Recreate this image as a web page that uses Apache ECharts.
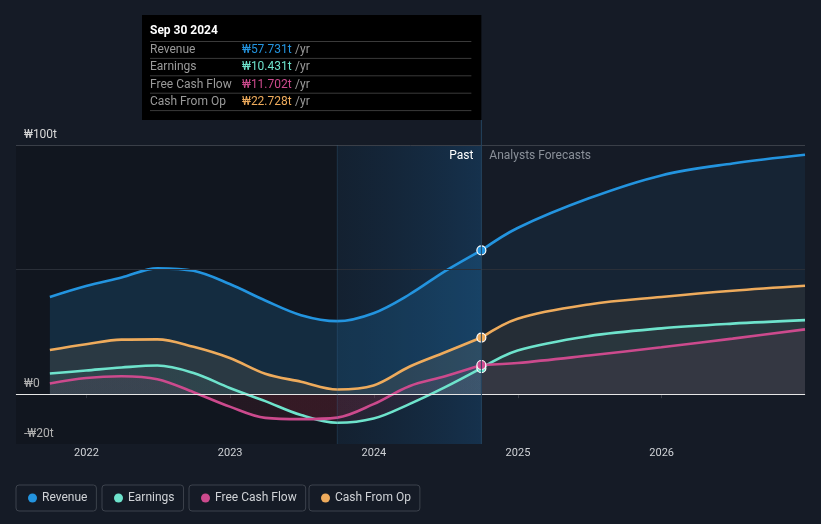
<!DOCTYPE html>
<html>
<head>
<meta charset="utf-8">
<script src="https://cdn.jsdelivr.net/npm/echarts@6/dist/echarts.min.js"></script>
<style>
html,body{margin:0;padding:0;background:#151b26;}
#c{width:821px;height:524px;}
</style>
</head>
<body>
<div id="c"></div>
<script>
// ---- data (₩ trillions) ----
const dates = ['2021-09-30','2021-12-31','2022-03-31','2022-06-30','2022-09-30','2022-12-31','2023-03-31','2023-06-30','2023-09-30','2023-12-31','2024-03-31','2024-06-30','2024-09-30','2024-12-31','2025-06-30','2025-12-31','2026-06-30','2026-12-31'];
const revenue  = [39.0,43.4,46.8,50.5,49.5,44.2,37.6,31.7,29.3,32.5,40.0,49.4,57.731,66.7,78.6,87.8,92.6,96.1];
const earnings = [8.3,9.5,10.7,11.5,8.5,2.5,-2.8,-8.4,-11.5,-9.8,-4.0,2.8,10.431,17.5,23.3,26.4,28.3,29.7];
const fcf      = [4.3,6.5,7.2,6.0,0.8,-5.0,-9.5,-10.0,-9.4,-4.0,3.2,7.2,11.702,12.5,15.5,18.8,22.3,26.0];
const cfo      = [17.7,20.0,21.9,22.0,19.0,14.5,8.2,5.0,1.9,3.5,11.0,16.8,22.728,30.3,36.0,39.0,41.5,43.5];
const pastEndIndex = 12;            // Sep 30 2024
const highlightStart = '2023-09-30';
const yTickLabels = {'100':'₩100t','0':'₩0','-20':'-₩20t'};
const seriesNames = ['Revenue','Earnings','Free Cash Flow','Cash From Op'];
const colors = {'Revenue':'#2394df','Earnings':'#6ee3cc','Free Cash Flow':'#cc4a8d','Cash From Op':'#eeab5c'};

const chart = echarts.init(document.getElementById('c'));
const FONT = 'Roboto, "Noto Sans", sans-serif';

function pairs(arr, from, to){ const out=[]; for(let i=from;i<=to;i++) out.push([dates[i], arr[i]]); return out; }
const last = dates.length-1;

function mkSeries(name, arr, pastFill, foreFill){
  const c = colors[name];
  const base = {type:'line', name:name, smooth:0.35, showSymbol:false, symbol:'none',
    lineStyle:{color:c, width:2.6}, itemStyle:{color:c}, emphasis:{disabled:true}, silent:true};
  return [
    Object.assign({}, base, {id:name+'_past', data:pairs(arr,0,pastEndIndex), areaStyle:{color:pastFill, origin:0},
      markPoint:{silent:true, symbol:'circle', symbolSize:9, label:{show:false},
        itemStyle:{color:c, borderColor:'#ffffff', borderWidth:1.2},
        data:[{coord:[dates[pastEndIndex], arr[pastEndIndex]]}]}}),
    Object.assign({}, base, {id:name+'_fore', data:pairs(arr,pastEndIndex,last), areaStyle:{color:foreFill, origin:0}})
  ];
}

const baseSeries = [
  {type:'line', id:'bg', data:[], silent:true,
    markArea:{silent:true, data:[
      [{xAxis:'2021-07-06', itemStyle:{color:'rgba(0,0,0,0.18)'}},{xAxis:highlightStart}],
      [{xAxis:highlightStart, itemStyle:{color:new echarts.graphic.LinearGradient(0,0,1,0,[
        {offset:0,color:'rgba(15,50,80,0.25)'},{offset:1,color:'rgba(22,80,130,0.42)'}])}},{xAxis:dates[pastEndIndex]}]
    ]},
    markLine:{silent:true, symbol:'none', label:{show:false}, data:[
      {yAxis:100, lineStyle:{color:'#3a3f48', width:1, type:'solid'}},
      {yAxis:50, lineStyle:{color:'#2a2f38', width:1, type:'solid'}},
      {yAxis:0, lineStyle:{color:'#e6e6e6', width:1.2, type:'solid'}}
    ]}
  }
];

const rev = mkSeries('Revenue', revenue, 'rgba(35,148,223,0.25)', 'rgba(35,148,223,0.11)');
const cf  = mkSeries('Cash From Op', cfo, 'rgba(238,171,92,0.15)', 'rgba(238,171,92,0.10)');
const ea  = mkSeries('Earnings', earnings, 'rgba(110,227,204,0.09)', 'rgba(110,227,204,0.07)');
const fc  = mkSeries('Free Cash Flow', fcf, 'rgba(204,74,141,0.10)', 'rgba(204,74,141,0.10)');

const legends = [];
const legendLefts = [16,102,189,309];
seriesNames.forEach((n,i)=>{
  legends.push({data:[{name:n, itemStyle:{color:colors[n]}}], left:legendLefts[i], top:485, orient:'horizontal',
    icon:'circle', itemWidth:9, itemHeight:9, padding:[7,9,7,12], borderColor:'#3c424c', borderWidth:1, borderRadius:3,
    selectedMode:false, textStyle:{color:'#cfd2d6', fontSize:12, fontFamily:FONT}});
});

chart.setOption({
  backgroundColor:'#151b26',
  animation:false,
  textStyle:{fontFamily:FONT},
  legend:legends,
  grid:{left:16, right:16, top:145, bottom:80, containLabel:false},
  xAxis:{type:'time', min:'2021-07-06', max:'2026-12-31', minInterval:365*24*3600*1000,
    axisLine:{show:true, lineStyle:{color:'#3a3f48'}},
    axisTick:{show:true, length:4, lineStyle:{color:'#3a3f48'}},
    splitLine:{show:false},
    axisLabel:{color:'#cfd2d6', fontSize:11, margin:4, fontFamily:FONT, formatter:{year:'{yyyy}', month:'', day:'', hour:'', minute:'', second:'', millisecond:''}}
  },
  yAxis:{type:'value', min:-20, max:100, interval:10,
    axisLine:{show:false}, axisTick:{show:false}, splitLine:{show:false},
    axisLabel:{inside:true, margin:8, color:'#d8d8d8', fontSize:12, fontFamily:FONT, verticalAlign:'bottom', padding:[0,0,4,0],
      formatter:(v)=>{const k=String(Math.round(v)); return yTickLabels[k]!==undefined? yTickLabels[k] : '';}}
  },
  series: baseSeries.concat(rev, cf, ea, fc)
});

// negative-area red tint for earnings / FCF (past part)
const zeroY = chart.convertToPixel({gridIndex:0},[dates[0],0])[1];
function negGrad(posColor){
  return new echarts.graphic.LinearGradient(0, zeroY-0.5, 0, zeroY+0.5, [
    {offset:0,color:posColor},{offset:1,color:'rgba(180,40,58,0.17)'}], true);
}
chart.setOption({series:[
  {id:'Earnings_past', areaStyle:{color:negGrad('rgba(110,227,204,0.09)')}},
  {id:'Free Cash Flow_past', areaStyle:{color:negGrad('rgba(204,74,141,0.10)')}}
]});

// overlay: boundary line, past/forecast labels, tooltip-like box
const bx = chart.convertToPixel({gridIndex:0},[dates[pastEndIndex],0])[0];
const hx = chart.convertToPixel({gridIndex:0},[highlightStart,0])[0];
const yTop = chart.convertToPixel({gridIndex:0},[dates[0],100])[1];
const yBot = chart.convertToPixel({gridIndex:0},[dates[0],-20])[1];
const fmt = v => '₩' + v.toFixed(3) + 't';
const boxL = 142, boxT = 15, boxR = bx, boxB = 120;
const rows = [['Revenue',revenue],['Earnings',earnings],['Free Cash Flow',fcf],['Cash From Op',cfo]];
const g = [
  {type:'line', shape:{x1:hx, y1:yTop, x2:hx, y2:yBot}, style:{stroke:'rgba(60,110,150,0.3)', lineWidth:1}, silent:true, z:5},
  {type:'line', shape:{x1:bx, y1:boxB, x2:bx, y2:yBot}, style:{stroke:'#244560', lineWidth:1}, silent:true, z:5},
  {type:'text', x:bx-8, y:yTop+11, style:{text:'Past', fill:'#ffffff', font:'12px '+FONT, align:'right', verticalAlign:'middle'}, z:6},
  {type:'text', x:bx+8, y:yTop+11, style:{text:'Analysts Forecasts', fill:'#8a9099', font:'12px '+FONT, align:'left', verticalAlign:'middle'}, z:6},
  {type:'rect', shape:{x:boxL, y:boxT, width:boxR-boxL, height:boxB-boxT}, style:{fill:'#000000'}, z:10},
  {type:'text', x:150, y:31, style:{text:'Sep 30 2024', fill:'#ffffff', font:'bold 12px '+FONT, verticalAlign:'middle'}, z:11},
  {type:'line', shape:{x1:150, y1:41.5, x2:boxR-10, y2:41.5}, style:{stroke:'#3a3a3a', lineWidth:1}, z:11}
];
rows.forEach((r,i)=>{
  const cy = 49.8 + i*17.4;
  g.push({type:'text', x:150, y:cy, style:{text:r[0], fill:'#9a9a9a', font:'12px '+FONT, verticalAlign:'middle'}, z:11});
  g.push({type:'text', x:242, y:cy, style:{text:'{v|'+fmt(r[1][pastEndIndex])+'} {u|/yr}', verticalAlign:'middle',
    rich:{v:{fill:colors[r[0]], font:'12px '+FONT}, u:{fill:'#9a9a9a', font:'12px '+FONT}}}, z:11});
  g.push({type:'line', shape:{x1:150, y1:cy+8.6, x2:boxR-10, y2:cy+8.6}, style:{stroke:'#3a3a3a', lineWidth:1}, z:11});
});
chart.setOption({graphic:g});
</script>
</body>
</html>
